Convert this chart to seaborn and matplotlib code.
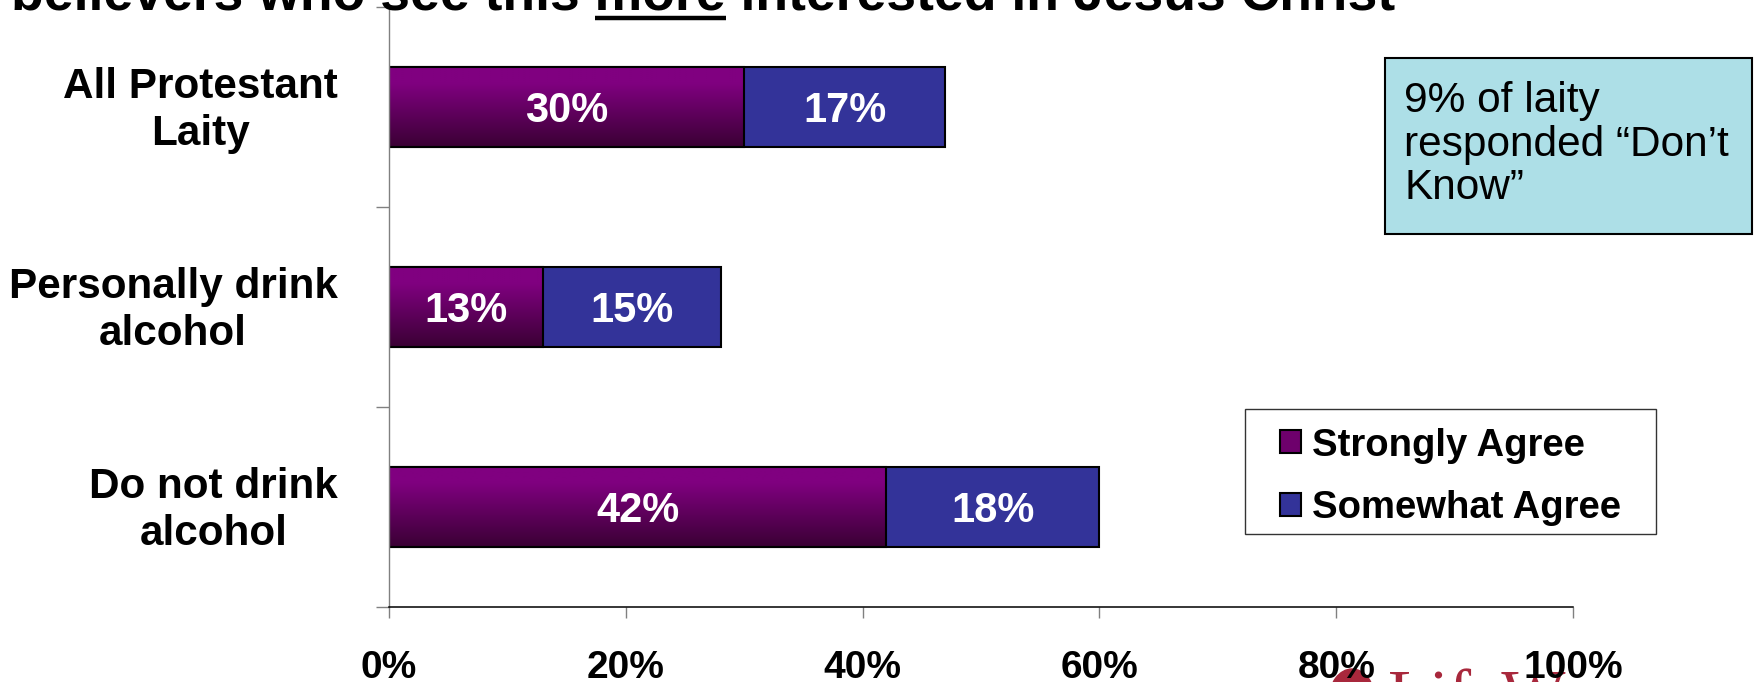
import numpy as np
import pandas as pd
import matplotlib
matplotlib.use("Agg")
import matplotlib.pyplot as plt
import matplotlib.transforms as mtransforms
import seaborn as sns
from matplotlib.patches import Rectangle, Patch, Ellipse
from matplotlib.lines import Line2D
from matplotlib.colors import to_rgb

# ---- data ----
categories = ["All Protestant\nLaity", "Personally drink\nalcohol", "Do not drink\nalcohol"]
strongly_agree = [30, 13, 42]
somewhat_agree = [17, 15, 18]
series_names = ["Strongly Agree", "Somewhat Agree"]
x_ticks = [0, 20, 40, 60, 80, 100]
x_tick_labels = ["0%", "20%", "40%", "60%", "80%", "100%"]
title_text = "believers who see this more interested in Jesus Christ"
underlined_word = "more"
note_lines = ["9% of laity", "responded \u201cDon\u2019t", "Know\u201d"]
logo_text = "LifeWay"

# ---- styling ----
W, H, DPI = 1754, 682, 100
PURPLE_TOP = "#800080"
PURPLE_BOTTOM = "#3a0034"
BLUE = "#333399"
GREY = "#808080"
LOGO_RED = "#a8283c"

sns.set_theme(style="white")
plt.rcParams["font.family"] = ["Liberation Sans", "DejaVu Sans"]
plt.rcParams["text.color"] = "black"
plt.rcParams["axes.labelcolor"] = "black"
plt.rcParams["xtick.labelcolor"] = "black"
plt.rcParams["ytick.labelcolor"] = "black"

df = pd.DataFrame({"group": categories,
                   "strong": strongly_agree,
                   "somewhat": somewhat_agree})
df["total"] = df["strong"] + df["somewhat"]

fig = plt.figure(figsize=(W / DPI, H / DPI), dpi=DPI)
fig.patch.set_facecolor("white")
ax = fig.add_axes([389 / W, (H - 607) / H, 1184 / W, 600 / H])

# stacked bars: full length in blue, strongly-agree part drawn over it
sns.barplot(data=df, x="total", y="group", orient="h", color=BLUE,
            saturation=1, width=0.4, edgecolor="black", linewidth=1.5, ax=ax)
n_before = len(ax.patches)
sns.barplot(data=df, x="strong", y="group", orient="h", color=PURPLE_TOP,
            saturation=1, width=0.4, edgecolor="black", linewidth=1.5, ax=ax)
strong_patches = ax.patches[n_before:]
for p in ax.patches[:n_before]:
    p.set_zorder(1)

# vertical purple gradient inside the strongly-agree bars
top_rgb = np.array(to_rgb(PURPLE_TOP))
bot_rgb = np.array(to_rgb(PURPLE_BOTTOM))
t = np.linspace(0, 1, 200)
w = np.clip((t - 0.2) / 0.8, 0, 1)[:, None]
grad = (top_rgb * (1 - w) + bot_rgb * w)[:, None, :]
for p in strong_patches:
    x0, y0, pw, ph = p.get_x(), p.get_y(), p.get_width(), p.get_height()
    im = ax.imshow(grad, extent=(x0, x0 + pw, y0 + ph, y0), origin="upper",
                   aspect="auto", zorder=1.5, interpolation="bilinear")
    im.set_clip_path(p)
    p.set_facecolor("none")
    p.set_zorder(2)

# value labels centred in each segment (digits centred on the bar)
label_props = dict(ha="center", va="baseline", color="white", fontsize=30,
                   fontweight="bold", zorder=3, textcoords="offset points",
                   xytext=(0, -10.5))
for i, (s, m) in enumerate(zip(strongly_agree, somewhat_agree)):
    ax.annotate(f"{s}%", xy=(s / 2, i), **label_props)
    ax.annotate(f"{m}%", xy=(s + m / 2, i), **label_props)

ax.set_xlim(0, 100)
ax.set_ylim(2.5, -0.5)
ax.set_xlabel("")
ax.set_ylabel("")
ax.set_xticks(x_ticks)
ax.set_xticklabels(x_tick_labels, fontsize=28, fontweight="bold")
ax.set_yticks(range(len(categories)))
ax.set_yticklabels(categories, fontsize=30.4, fontweight="bold")
ax.set_yticks([-0.5, 0.5, 1.5, 2.5], minor=True)
ax.tick_params(axis="y", which="major", length=0, pad=37, left=False,
               labelcolor="black")
ax.tick_params(axis="y", which="minor", length=9.5, width=1, color=GREY,
               direction="out", left=True)
ax.tick_params(axis="x", which="major", length=8, width=1, color=GREY,
               direction="out", pad=23, bottom=True, labelcolor="black")
ax.grid(False)
for side in ("top", "right"):
    ax.spines[side].set_visible(False)
ax.spines["left"].set_color(GREY)
ax.spines["left"].set_linewidth(1)
ax.spines["bottom"].set_color("black")
ax.spines["bottom"].set_linewidth(1.1)

# category labels: centred lines, nudged slightly upward
lift = mtransforms.ScaledTranslation(0, 4.5 / DPI, fig.dpi_scale_trans)
for lab in ax.get_yticklabels():
    lab.set_multialignment("center")
    lab.set_linespacing(1.22)
    lab.set_transform(lab.get_transform() + lift)

# title line (runs off the top edge) with underlined word
title_props = dict(fontsize=38.5, fontweight="bold", color="black")
tx0 = 11
fig.text(tx0 / W, (H - 9) / H, title_text, ha="left", va="baseline", **title_props)
renderer = fig.canvas.get_renderer()


def text_width(s):
    tmp = fig.text(0, 0, s, **title_props)
    wpx = tmp.get_window_extent(renderer).width
    tmp.remove()
    return wpx


head = title_text[: title_text.index(underlined_word) + len(underlined_word)]
u_end = tx0 + text_width(head)
u_start = u_end - text_width(underlined_word)
fig.add_artist(Line2D([u_start / W, u_end / W], [(H - 18) / H, (H - 18) / H],
                      transform=fig.transFigure, color="black", lw=3.2,
                      solid_capstyle="butt"))

# note box
fig.add_artist(Rectangle((1385 / W, (H - 234) / H), 367 / W, 176 / H,
                         transform=fig.transFigure, facecolor="#addfe7",
                         edgecolor="black", lw=1.5, zorder=2))
for line, base in zip(note_lines, [112, 156, 199]):
    fig.text(1404 / W, (H - base) / H, line, ha="left", va="baseline",
             fontsize=30.5, color="black", zorder=3)

# legend with its own frame
fig.add_artist(Rectangle((1245 / W, (H - 534) / H), 411 / W, 125 / H,
                         transform=fig.transFigure, facecolor="white",
                         edgecolor="#333333", lw=1, zorder=4))
handles = [Patch(facecolor="#6e006c", edgecolor="black", lw=1.5),
           Patch(facecolor=BLUE, edgecolor="black", lw=1.5)]
leg = fig.legend(handles, series_names, loc="upper left",
                 bbox_to_anchor=(1280 / W, (H - 427.5) / H),
                 bbox_transform=fig.transFigure, frameon=False,
                 borderpad=0, borderaxespad=0, handlelength=0.55,
                 handleheight=0.55, handletextpad=0.3, labelspacing=0.7,
                 prop={"weight": "bold", "size": 27.5})
leg.set_zorder(5)

# logo peeking in at the bottom edge
fig.add_artist(Ellipse((1352 / W, (H - 700) / H), 46 / W, 62 / H,
                       transform=fig.transFigure, color=LOGO_RED, zorder=-1))
fig.text(1388 / W, (H - 716) / H, logo_text, family="Liberation Serif",
         fontsize=49, color=LOGO_RED, ha="left", va="baseline", zorder=-1)

fig.savefig("out.png", dpi=DPI)
